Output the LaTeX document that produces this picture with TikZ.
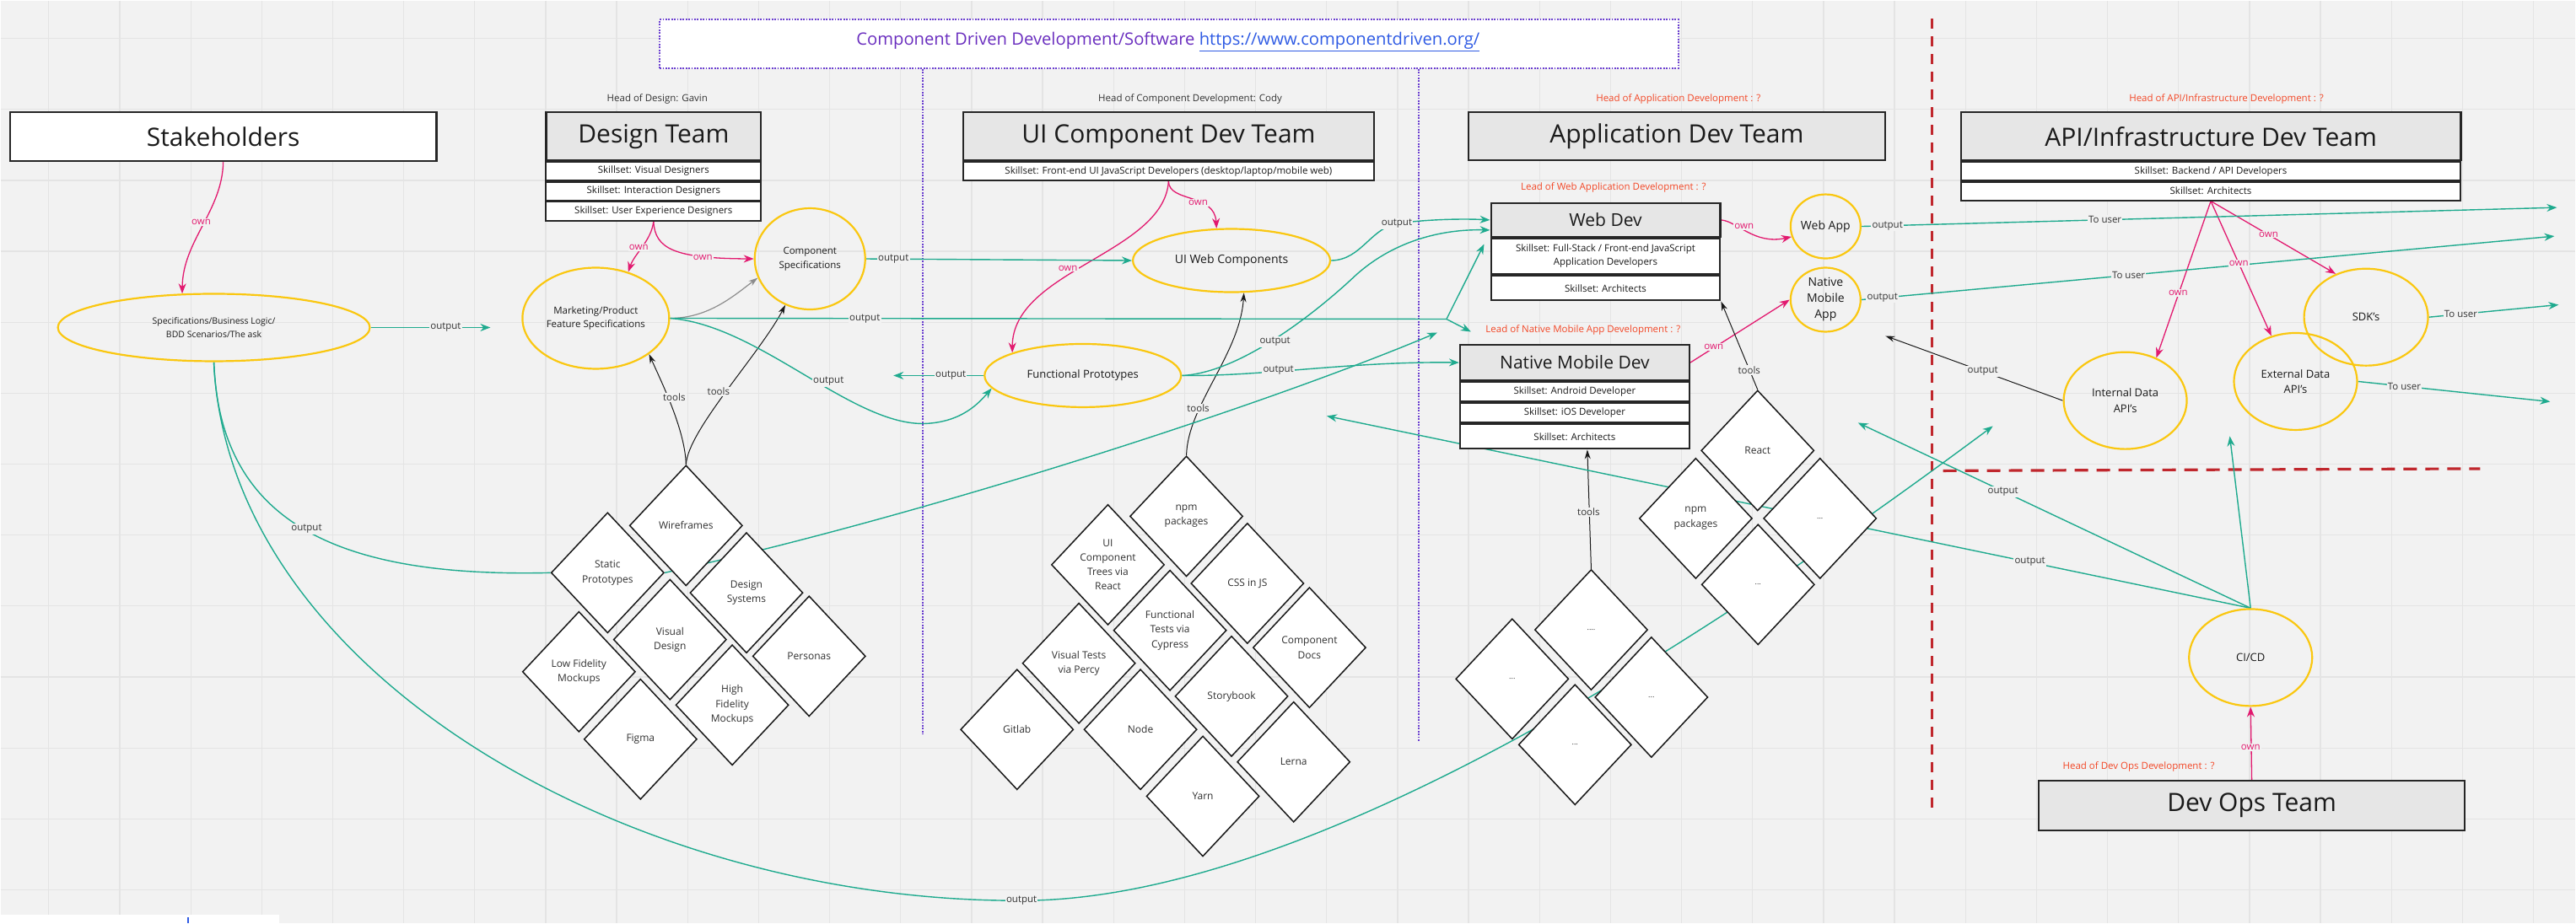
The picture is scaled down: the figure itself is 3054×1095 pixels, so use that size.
\documentclass[tikz,border=0pt]{standalone}
\usepackage{fontspec}
\setmainfont{Open Sans}
\usetikzlibrary{shapes.geometric,arrows.meta,calc}
\definecolor{bgc}{HTML}{F2F2F2}
\definecolor{gridc}{HTML}{E4E4E4}
\definecolor{cteal}{HTML}{1EAA8E}
\definecolor{cown}{HTML}{E2196F}
\definecolor{cylw}{HTML}{FAC710}
\definecolor{corng}{HTML}{F24726}
\definecolor{cpurp}{HTML}{6A2EBF}
\definecolor{cdot}{HTML}{6B3FD0}
\definecolor{clink}{HTML}{2F5BE4}
\definecolor{cred}{HTML}{C0272D}
\definecolor{cteam}{HTML}{E6E6E6}
\definecolor{ctext}{HTML}{1A1A1A}
\definecolor{clbl}{HTML}{333333}
\newcommand{\myfs}[2]{\fontsize{#1}{#2}\selectfont}
\pgfdeclarelayer{gridlayer}
\pgfdeclarelayer{edgelayer}
\pgfsetlayers{gridlayer,edgelayer,main}
\tikzset{
 teambox/.style={draw=black!85, line width=2.2pt, fill=cteam, inner sep=0pt, anchor=north west, text=ctext, font=\myfs{30}{36}},
 skrow/.style={draw=black!85, line width=2pt, fill=white, inner sep=0pt, anchor=north west, text=ctext, align=center, font=\myfs{11.5}{16.4}},
 ell/.style={ellipse, draw=cylw, line width=2.2pt, inner sep=-10pt, align=center, text=ctext, font=\myfs{11.5}{16.5}},
 dia/.style={diamond, draw=black!90, line width=1.5pt, fill=white, inner sep=-10pt, minimum width=134pt, minimum height=143pt, align=center, text=ctext!90, font=\myfs{12}{17.5}},
 lbl/.style={fill=bgc, inner sep=1.2pt, text=clbl, font=\myfs{11.5}{13}},
 ownlbl/.style={lbl, text=cown},
 headtxt/.style={text=corng, font=\myfs{11.5}{13}, inner sep=0pt},
 tealarr/.style={draw=cteal, line width=1.4pt, -{Stealth[length=12pt,width=9pt]}},
 tealln/.style={draw=cteal, line width=1.4pt},
 ownarr/.style={draw=cown, line width=1.3pt, -{Stealth[length=12pt,width=9pt]}},
 toolarr/.style={draw=black!90, line width=1pt, -{Stealth[length=11pt,width=7pt]}},
 grayarr/.style={draw=black!45, line width=1.2pt, -{Stealth[length=11pt,width=7pt]}},
 dotline/.style={draw=cdot, line width=1.8pt, dash pattern=on 1.8pt off 1.6pt},
}
\begin{document}
\begin{tikzpicture}[x=1pt,y=-1pt]
\begin{pgfonlayer}{gridlayer}
\fill[bgc] (0,0) rectangle (3054,1095);
\foreach \i in {0,...,35} {\draw[gridc, line width=1.3pt] ({57.2+84.2*\i},0) -- ({57.2+84.2*\i},1095);}
\foreach \j in {0,...,12} {\draw[gridc, line width=1.3pt] (0,{44.9+84.2*\j}) -- (3054,{44.9+84.2*\j});}
\fill[white] (0,1085) rectangle (330,1095);
\fill[clink] (221,1088) rectangle (223.5,1095);
\end{pgfonlayer}
\useasboundingbox (0,0) rectangle (3054,1095);

% title
\node[draw=cdot, line width=1.8pt, dash pattern=on 1.8pt off 1.6pt, fill=white, anchor=north west, inner sep=0pt, minimum width=1208pt, minimum height=57.6pt] (titlebox) at (781,21.7) {};
\node[anchor=west, inner sep=0pt, text=cpurp, font=\myfs{20.2}{24}] (title) at (1015,49) {Component Driven Development/Software \textcolor{clink}{\underline{https://www.componentdriven.org/}}};

% heads
\node[headtxt, text=clbl] (hdes) at (779,116.5) {Head of Design: Gavin};
\node[headtxt, text=clbl] (hcomp) at (1411,116.5) {Head of Component Development: Cody};
\node[headtxt] (happ) at (1990,116.5) {Head of Application Development : ?};
\node[headtxt] (hapi) at (2640,116.5) {Head of API/Infrastructure Development : ?};
\node[headtxt] (hweb) at (1913,221.7) {Lead of Web Application Development : ?};
\node[headtxt] (hnm) at (1877,391) {Lead of Native Mobile App Development : ?};
\node[headtxt] (hops) at (2536,908.8) {Head of Dev Ops Development : ?};

% team boxes
\node[teambox, fill=white, minimum width=506pt, minimum height=58pt] (stake) at (10,131.5) {Stakeholders};
\node[teambox, minimum width=255pt, minimum height=57.2pt] (dt) at (646,131.5) {Design Team};
\node[skrow, minimum width=255pt, minimum height=21.5pt] (dt1) at (646,190.5) {Skillset: Visual Designers};
\node[skrow, minimum width=255pt, minimum height=22pt] (dt2) at (646,214) {Skillset: Interaction Designers};
\node[skrow, minimum width=255pt, minimum height=22.5pt] (dt3) at (646,237.5) {Skillset: User Experience Designers};
\node[teambox, minimum width=487.4pt, minimum height=57.2pt] (ui) at (1140.6,131.5) {UI Component Dev Team};
\node[skrow, minimum width=487.4pt, minimum height=22pt] (ui1) at (1140.6,190.5) {Skillset: Front-end UI JavaScript Developers (desktop/laptop/mobile web)};
\node[teambox, minimum width=494pt, minimum height=57.2pt] (app) at (1740,131.5) {Application Dev Team};
\node[teambox, minimum width=593pt, minimum height=57.2pt] (api) at (2324,131.5) {API/Infrastructure Dev Team};
\node[skrow, minimum width=593pt, minimum height=22pt] (api1) at (2324,190.5) {Skillset: Backend / API Developers};
\node[skrow, minimum width=593pt, minimum height=22pt] (api2) at (2324,214) {Skillset: Architects};
\node[teambox, font=\myfs{21}{25}, minimum width=272pt, minimum height=39.4pt] (wd0) at (1766.6,239.6) {Web Dev};
\node[skrow, minimum width=272pt, minimum height=42.5pt] (wd1) at (1766.6,281) {Skillset: Full-Stack / Front-end JavaScript\\Application Developers};
\node[skrow, minimum width=272pt, minimum height=29.3pt] (wd2) at (1766.6,325.7) {Skillset: Architects};
\node[teambox, font=\myfs{21}{25}, minimum width=272pt, minimum height=42pt] (nm0) at (1730,407.5) {Native Mobile Dev};
\node[skrow, minimum width=272pt, minimum height=22.6pt] (nm1) at (1730,452) {Skillset: Android Developer};
\node[skrow, minimum width=272pt, minimum height=22.6pt] (nm2) at (1730,477) {Skillset: iOS Developer};
\node[skrow, minimum width=272pt, minimum height=29pt] (nm3) at (1730,502) {Skillset: Architects};
\node[teambox, minimum width=504.8pt, minimum height=58.5pt] (devops) at (2416.6,925) {Dev Ops Team};

% ellipses
\node[ell, font=\myfs{10.5}{16.5}, minimum width=370pt, minimum height=80pt] (specs) at (253,388) {Specifications/Business Logic/\\BDD Scenarios/The ask};
\node[ell, minimum width=174pt, minimum height=120pt] (mkt) at (706,377) {Marketing/Product\\Feature Specifications};
\node[ell, minimum width=131pt, minimum height=120pt] (cs) at (960,306.5) {Component\\Specifications};
\node[ell, font=\myfs{14}{18}, minimum width=234pt, minimum height=75pt] (uiweb) at (1460,308.5) {UI Web Components};
\node[ell, font=\myfs{13}{18}, minimum width=233pt, minimum height=75pt] (fp) at (1283.6,445) {Functional Prototypes};
\node[ell, font=\myfs{14}{19}, minimum width=83pt, minimum height=76pt] (webapp) at (2164.6,268) {Web App};
\node[ell, font=\myfs{14}{19}, minimum width=83pt, minimum height=76pt] (nmapp) at (2164.6,355) {Native\\Mobile\\App};
\node[ell, font=\myfs{13}{18.5}, minimum width=147pt, minimum height=115pt] (sdk) at (2805.6,375.7) {SDK's};
\node[ell, font=\myfs{13}{18.5}, minimum width=146pt, minimum height=115pt] (ext) at (2722,452) {External Data\\API's};
\node[ell, font=\myfs{13}{18.5}, minimum width=146pt, minimum height=115pt] (int) at (2520,474.7) {Internal Data\\API's};
\node[ell, font=\myfs{13}{18.5}, minimum width=146pt, minimum height=115pt] (cicd) at (2668.7,779.6) {CI/CD};

% design diamonds
\node[dia] (dwire) at (813,623) {Wireframes};
\node[dia] (dstat) at (720,679) {Static\\Prototypes};
\node[dia] (dsys) at (884.7,702.8) {Design\\Systems};
\node[dia] (dvis) at (794,758.3) {Visual\\Design};
\node[dia] (dpers) at (959,778) {Personas};
\node[dia] (dlow) at (686,796.5) {Low Fidelity\\Mockups};
\node[dia] (dhigh) at (867.8,836) {High\\Fidelity\\Mockups};
\node[dia] (dfig) at (759,876.5) {Figma};
% UI diamonds
\node[dia] (unpm) at (1406.5,612) {npm\\packages};
\node[dia, font=\myfs{12}{17}] (utree) at (1313.4,669.5) {UI\\Component\\Trees via\\React};
\node[dia] (ucss) at (1478.8,691.6) {CSS in JS};
\node[dia] (ufunc) at (1387,747.4) {Functional\\Tests via\\Cypress};
\node[dia] (udocs) at (1552.4,767.8) {Component\\Docs};
\node[dia] (uvis) at (1279,786.4) {Visual Tests\\via Percy};
\node[dia] (ustory) at (1460,825.6) {Storybook};
\node[dia] (ugit) at (1205.6,865) {Gitlab};
\node[dia] (unode) at (1352,865) {Node};
\node[dia] (ulerna) at (1533.7,903.5) {Lerna};
\node[dia] (uyarn) at (1426,944.2) {Yarn};
% app diamonds
\node[dia] (areact) at (2084,534) {React};
\node[dia] (anpm) at (2010.6,614.5) {npm\\packages};
\node[dia, font=\myfs{9}{11}] (ad1) at (2158,614.5) {...};
\node[dia, font=\myfs{9}{11}] (ad2) at (2084.5,693) {...};
\node[dia, font=\myfs{9}{11}] (ad3) at (1886.6,746.7) {....};
\node[dia, font=\myfs{9}{11}] (ad4) at (1792.9,805) {...};
\node[dia, font=\myfs{9}{11}] (ad5) at (1958,826.7) {...};
\node[dia, font=\myfs{9}{11}] (ad6) at (1867.4,883) {...};

% free ends
\coordinate (o1end) at (581,388);
\coordinate (o2end) at (1059,445);
\coordinate (br) at (1715,378);
\coordinate (leadarr) at (1744,393);
\coordinate (statarr) at (1704,394);
\coordinate (arcend) at (2363,505);
\coordinate (c1) at (2644,517);
\coordinate (c2) at (2203,501);
\coordinate (c3) at (1573,493);
\coordinate (u1) at (3032,245.6);
\coordinate (u2) at (3029,279.6);
\coordinate (u3) at (3034,361);
\coordinate (u4) at (3024,476);
\coordinate (intarr) at (2235.7,398);

\begin{pgfonlayer}{edgelayer}
% separators
\draw[dotline] (titlebox.south west -| 1094,0) -- (1094,870);
\draw[dotline] (titlebox.south west -| 1682,0) -- (1682,880);
\draw[cred, line width=2.6pt, dash pattern=on 12pt off 9pt] (2291,21.7) -- (2291,960.6);
\draw[cred, line width=3.2pt, dash pattern=on 16pt off 10pt] (2304,558) -- (2941,555.5);
% own
\draw[ownarr] (stake.south) .. controls (263,250) and (216,285) .. (specs.133);
\draw[ownarr] (dt3.south) .. controls (772,285) and (752,300) .. (mkt.55);
\draw[ownarr] (dt3.south) .. controls (776,295) and (800,306) .. (cs.west);
\draw[ownarr] (ui1.south) .. controls (1386,240) and (1440,228) .. (uiweb.115);
\draw[ownarr] (ui1.south) .. controls (1380,300) and (1200,320) .. (fp.162);
\draw[ownarr] (wd0.east) .. controls (2060,262) and (2080,290) .. (webapp.197);
\draw[ownarr] (nm0.east) -- (nmapp.west);
\draw[ownarr] (api2.south) -- (int.54);
\draw[ownarr] (api2.south) -- (ext.118);
\draw[ownarr] (api2.south) -- (sdk.125);
\draw[ownarr] (devops.north) -- (cicd.south);
% tools
\draw[toolarr] (dwire.north) .. controls (812,510) and (785,455) .. (mkt.-34);
\draw[toolarr] (dwire.north) .. controls (815,510) and (900,420) .. (cs.242);
\draw[toolarr] (unpm.north) .. controls (1408,480) and (1470,420) .. (uiweb.-69);
\draw[toolarr] (areact.north) -- (wd2.south east);
\draw[toolarr] (ad3.north) -- ([xshift=15pt]nm3.south);
\draw[toolarr] (int.west) -- (intarr);
\draw[grayarr] (mkt.east) .. controls (840,377) and (870,350) .. (cs.200);
% teal outputs
\draw[tealarr] (specs.east) -- (o1end);
\draw[tealarr] (cs.east) -- (uiweb.west);
\draw[tealln] (mkt.east) -- (br);
\draw[tealarr] (br) -- ([xshift=-7pt,yshift=-8pt]wd1.north west);
\draw[tealarr] (br) -- (leadarr);
\draw[tealarr] (mkt.east) .. controls (900,385) and (1010,505) .. (1097,502) .. controls (1140,500) and (1160,478) .. (fp.188);
\draw[tealarr] (fp.west) -- (o2end);
\draw[tealarr] (fp.east) .. controls (1470,442) and (1560,370) .. (1603,330) .. controls (1650,285) and (1710,271) .. ([yshift=-12pt]wd0.west);
\draw[tealarr] (fp.east) .. controls (1500,446) and (1600,428) .. (nm0.west);
\draw[tealarr] (uiweb.east) .. controls (1615,308) and (1625,268) .. (1660,264) .. controls (1700,259) and (1740,259) .. (wd0.west);
\draw[tealarr] (dstat.east) .. controls (1100,610) and (1500,480) .. (statarr);
\draw[tealln] (specs.south) .. controls (260,620) and (400,685) .. (dstat.west);
\draw[tealarr] (specs.south) .. controls (270,800) and (750,1070) .. (1211,1068) .. controls (1580,1068) and (2100,700) .. (arcend);
\draw[tealarr] (cicd.north) -- (c1);
\draw[tealarr] (cicd.north) -- (c2);
\draw[tealarr] (cicd.north) -- (c3);
\draw[tealarr] (webapp.east) -- (u1);
\draw[tealarr] (nmapp.east) -- (u2);
\draw[tealarr] (sdk.east) -- (u3);
\draw[tealarr] (ext.east) -- (u4);
\end{pgfonlayer}

% labels
\node[ownlbl] (lo1) at (238,263) {own};
\node[ownlbl] (lo2) at (757,293) {own};
\node[ownlbl] (lo3) at (833,305) {own};
\node[ownlbl] (lo4) at (1420.5,240) {own};
\node[ownlbl] (lo5) at (1266,317.5) {own};
\node[ownlbl] (lo6) at (2068,268) {own};
\node[ownlbl] (lo7) at (2032,411) {own};
\node[ownlbl] (lo8) at (2582.8,347) {own};
\node[ownlbl] (lo9) at (2654.7,312) {own};
\node[ownlbl] (lo10) at (2690,277.4) {own};
\node[ownlbl] (lo11) at (2668.7,886) {own};
\node[lbl] (lt1) at (799,471) {tools};
\node[lbl] (lt2) at (851.6,464) {tools};
\node[lbl] (lt3) at (1420.5,484) {tools};
\node[lbl] (lt4) at (2074,438.5) {tools};
\node[lbl] (lt5) at (1883.5,607) {tools};
\node[lbl] (lp1) at (528,388) {output};
\node[lbl] (lp2) at (1059,306.6) {output};
\node[lbl] (lp3) at (1025,377.3) {output};
\node[lbl] (lp4) at (982,452) {output};
\node[lbl] (lp5) at (1127,445) {output};
\node[lbl] (lp6) at (1511.6,405) {output};
\node[lbl] (lp7) at (1515.6,439) {output};
\node[lbl] (lp8) at (1656,265) {output};
\node[lbl] (lp9) at (363,627) {output};
\node[lbl] (lp10) at (1211,1068) {output};
\node[lbl] (lp11) at (2375,583) {output};
\node[lbl] (lp12) at (2407,666) {output};
\node[lbl] (lp13) at (2351,440) {output};
\node[lbl] (lp14) at (2238,267.1) {output};
\node[lbl] (lp15) at (2232,352.6) {output};
\node[lbl] (lu1) at (2496,260.1) {To user};
\node[lbl] (lu2) at (2524,325.9) {To user};
\node[lbl] (lu3) at (2918,372.2) {To user};
\node[lbl] (lu4) at (2851,457.9) {To user};
\end{tikzpicture}
\end{document}
